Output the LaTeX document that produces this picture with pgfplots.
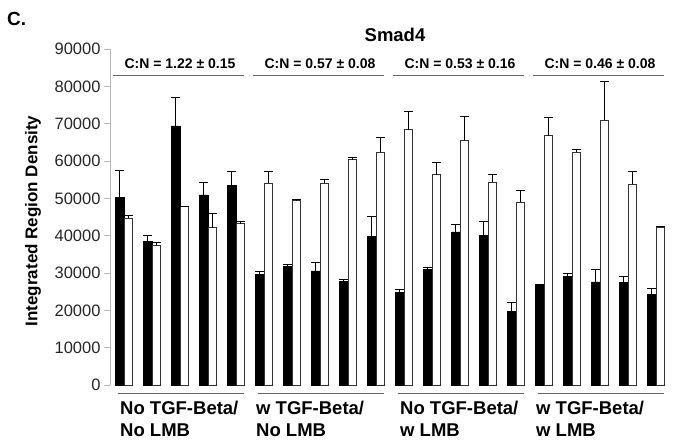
\documentclass[border=0pt]{standalone}
\usepackage{pgfplots}
\pgfplotsset{compat=1.18}
\usepackage{pgfplotstable}
\usepackage{fontspec}
\setmainfont{Liberation Sans}
\definecolor{axgray}{RGB}{185,185,185}
\definecolor{lngray}{RGB}{100,100,100}
\pgfplotstableread{
x y e
1 50200 7400
2 38500 1600
3 69400 7600
4 50900 3400
5 53500 3800
6 29600 700
7 31700 700
8 30600 2100
9 27800 600
10 39800 5400
11 24800 700
12 31000 600
13 41000 2000
14 40100 3800
15 19800 2200
16 27000 0
17 29000 900
18 27600 3300
19 27400 1700
20 24200 1600
}\blackdata
\pgfplotstableread{
x y e
1 44600 800
2 37400 900
3 47800 0
4 42100 3800
5 43200 700
6 54100 3200
7 49400 200
8 54100 900
9 60400 600
10 62400 3800
11 68400 4800
12 56300 3200
13 65500 6400
14 54400 1900
15 49000 3100
16 66800 4800
17 62400 600
18 71000 10400
19 53800 3500
20 42300 200
}\whitedata
\tikzset{cn/.style={font=\bfseries\fontsize{14}{16}\selectfont, anchor=center},
  gl/.style={lngray, line width=0.9pt}}
\begin{document}
\begin{tikzpicture}[x=1pt,y=1pt]
\path[use as bounding box] (0,0) rectangle (677,445);
\begin{axis}[
  at={(110pt,60pt)}, anchor=south west,
  scale only axis, width=560pt, height=336pt,
  xmin=0.5, xmax=20.5, ymin=0, ymax=90000,
  axis x line=none,
  axis y line*=left,
  axis line style={axgray, line width=0.8pt},
  ytick distance=10000,
  scaled y ticks=false,
  /pgf/number format/1000 sep={},
  /pgf/number format/assume math mode=true,
  yticklabel style={font=\fontsize{16.5}{18}\selectfont, text=black!85},
  tick align=outside, major tick length=6pt,
  tick style={axgray, line width=0.8pt},
  clip=false,
]
\addplot[ybar, bar width=0.32, bar shift=0, fill=black, draw=black, line width=0.5pt,
  error bars/.cd, y dir=plus, y explicit,
  error bar style={black, line width=0.9pt},
  error mark options={rotate=90, black, mark size=4.5pt, line width=0.9pt}]
  table[x expr=\thisrow{x}-0.16, y=y, y error=e] {\blackdata};
\addplot[ybar, bar width=0.30, bar shift=0, fill=white, draw=black!80, line width=0.7pt,
  error bars/.cd, y dir=plus, y explicit,
  error bar style={black, line width=0.9pt},
  error mark options={rotate=90, black, mark size=4.5pt, line width=0.9pt}]
  table[x expr=\thisrow{x}+0.16, y=y, y error=e] {\whitedata};
\draw[gl] (axis cs:0.6,82800) -- (axis cs:5.3,82800);
\draw[gl] (axis cs:5.6,82800) -- (axis cs:10.3,82800);
\draw[gl] (axis cs:10.6,82800) -- (axis cs:15.3,82800);
\draw[gl] (axis cs:15.6,82800) -- (axis cs:20.3,82800);
\draw[gl] (axis cs:0.8,-2200) -- (axis cs:5.3,-2200);
\draw[gl] (axis cs:5.8,-2200) -- (axis cs:10.3,-2200);
\draw[gl] (axis cs:10.8,-2200) -- (axis cs:15.3,-2200);
\draw[gl] (axis cs:15.8,-2200) -- (axis cs:20.3,-2200);
\node[cn] at (axis cs:3.0,86000) {C:N = 1.22 ± 0.15};
\node[cn] at (axis cs:8.0,86000) {C:N = 0.57 ± 0.08};
\node[cn] at (axis cs:13.0,86000) {C:N = 0.53 ± 0.16};
\node[cn] at (axis cs:18.0,86000) {C:N = 0.46 ± 0.08};
\end{axis}
\node[font=\bfseries\fontsize{18.5}{22}\selectfont] at (395,410) {Smad4};
\node[font=\bfseries\fontsize{19}{22}\selectfont, anchor=north west, inner sep=0pt] at (7,433) {C.};
\node[font=\bfseries\fontsize{17}{20}\selectfont, rotate=90] at (33,224) {Integrated Region Density};
\foreach \xx/\a/\b in {120/No TGF-Beta\slash/No LMB, 256/w TGF-Beta\slash/No LMB, 400/No TGF-Beta\slash/w LMB, 536/w TGF-Beta\slash/w LMB}{
  \node[font=\bfseries\fontsize{18.5}{22}\selectfont, anchor=north west, align=left, inner sep=0pt] at (\xx,44) {\a\\\b};
}
\end{tikzpicture}
\end{document}
